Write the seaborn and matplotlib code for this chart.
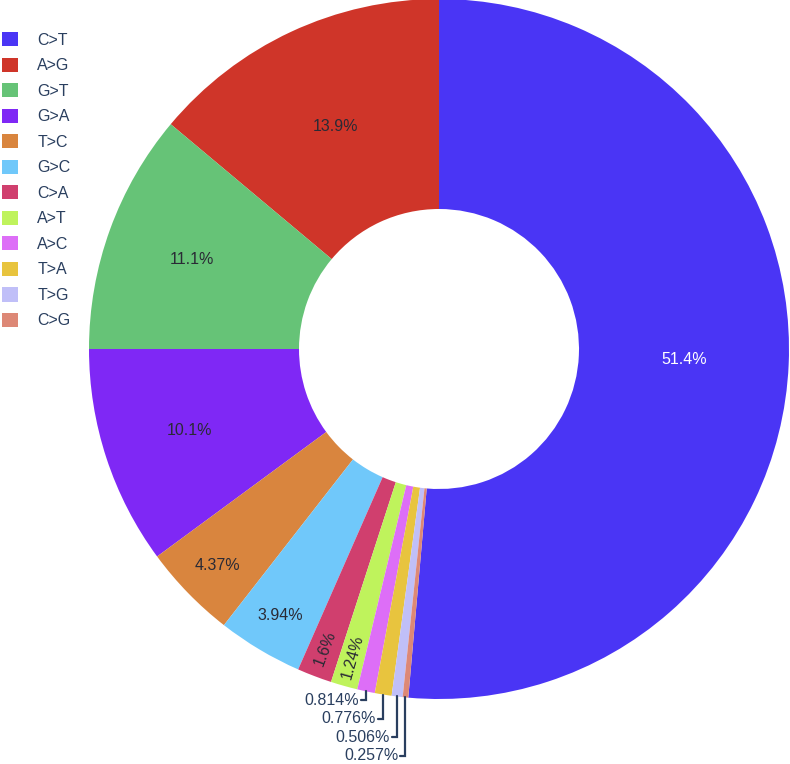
import numpy as np
import seaborn as sns
import matplotlib.pyplot as plt

# mutation types and their share (%)
labels = ['C>T', 'A>G', 'G>T', 'G>A', 'T>C', 'G>C', 'C>A', 'A>T', 'A>C', 'T>A', 'T>G', 'C>G']
values = [51.4, 13.9, 11.1, 10.1, 4.37, 3.94, 1.6, 1.24, 0.814, 0.776, 0.506, 0.257]
colors = ['#4a35f5', '#cf3529', '#66c377', '#7f28f5', '#d9853e', '#70c8fa',
          '#d03f6e', '#bff35c', '#dd6ef7', '#e8c43e', '#c0bff8', '#dd8876']

sns.set_theme(style='white')
plt.rcParams['font.family'] = ['Liberation Sans', 'DejaVu Sans']
palette = sns.color_palette(colors)

txt_dark = '#2a3f5f'
fs = 11.5

fig = plt.figure(figsize=(7.9, 7.64), dpi=100)
ax = fig.add_axes([89 / 790, 65 / 764, 700 / 790, 700 / 764])

# first slice ends at 12 o'clock, slices go counterclockwise
start = 90 - values[0] / sum(values) * 360
wedges, _ = ax.pie(values, colors=palette, startangle=start, counterclock=True,
                   radius=1, wedgeprops=dict(width=0.6, linewidth=0))
ax.set_aspect('auto')
ax.set_xlim(-1, 1)
ax.set_ylim(-1, 1)
ax.axis('off')

# slice labels
outside_y = None
for w, v in zip(wedges, values):
    mid = np.deg2rad((w.theta1 + w.theta2) / 2)
    s = f'{v:.3g}%'
    if v >= 1:
        if v > 12:
            r = 0.70
        elif v > 9:
            r = 0.75
        elif v > 3:
            r = 0.885
        else:
            r = 0.915
        rot = 0
        if v < 2:
            rot = np.rad2deg(mid) - 180
        col = 'white' if v > 50 else '#2a2a35'
        ax.text(r * np.cos(mid), r * np.sin(mid), s, ha='center', va='center',
                rotation=rot, rotation_mode='anchor', fontsize=fs, color=col)
    else:
        ex, ey = np.cos(mid), np.sin(mid)
        if outside_y is None:
            ty = ey - 0.025
        else:
            ty = outside_y - 0.053
        outside_y = ty
        ax.plot([ex, ex, ex - 0.015], [ey, ty, ty], color=txt_dark, lw=1.6,
                clip_on=False, solid_joinstyle='miter')
        ax.text(ex - 0.02, ty, s, ha='right', va='center', fontsize=fs, color=txt_dark)

leg = fig.legend(wedges, labels, loc='upper left', bbox_to_anchor=(2 / 790, 1 - 32 / 764),
                 frameon=False, fontsize=fs, handlelength=1.0, handleheight=1.0,
                 handletextpad=1.2, labelspacing=0.62, borderpad=0, borderaxespad=0,
                 labelcolor=txt_dark)

fig.savefig('out.png', dpi=100)
